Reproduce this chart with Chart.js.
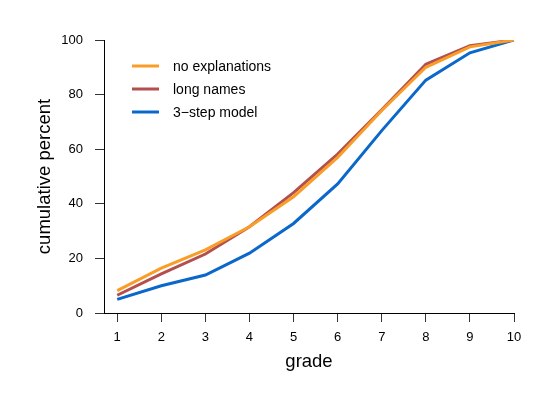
<!DOCTYPE html>
<html>
<head>
<meta charset="utf-8">
<script src="https://cdn.jsdelivr.net/npm/chart.js@4.4.1/dist/chart.umd.min.js"></script>
<style>
  html, body { margin: 0; padding: 0; background: #fff; }
  #wrap { width: 556px; height: 395px; }
</style>
</head>
<body>
<div id="wrap"><canvas id="chart" width="556" height="395"></canvas></div>
<script>
const grades = [1, 2, 3, 4, 5, 6, 7, 8, 9, 10];
const noExplanations = [8.2, 16.4, 23.1, 31.6, 42.6, 57.0, 74.2, 90.0, 97.5, 100];
const longNames      = [6.5, 14.3, 21.6, 31.6, 44.1, 58.2, 74.4, 91.1, 97.9, 100];
const threeStepModel = [5.0, 10.0, 13.9, 21.9, 32.8, 47.3, 66.8, 85.3, 95.3, 100];
const yTicks = [0, 20, 40, 60, 80, 100];

const FONT = "'Liberation Sans', Arial, Helvetica, sans-serif";

function pts(values) {
    return grades.map((g, i) => ({ x: g, y: values[i] }));
}

// légende dessinée à la main, dans la zone du graphique
const insetLegend = {
    id: 'insetLegend',
    afterDraw(chart) {
        const ctx = chart.ctx;
        ctx.save();
        chart.data.datasets.forEach((ds, i) => {
            const y = 66 + i * 23;
            ctx.strokeStyle = ds.borderColor;
            ctx.lineWidth = 3;
            ctx.beginPath();
            ctx.moveTo(132, y);
            ctx.lineTo(159, y);
            ctx.stroke();
            ctx.fillStyle = '#000';
            ctx.font = '14px ' + FONT;
            ctx.textBaseline = 'middle';
            ctx.fillText(ds.label, 173, y + 1);
        });
        ctx.restore();
    }
};

new Chart(document.getElementById('chart'), {
    type: 'line',
    data: {
        datasets: [
            { label: 'no explanations', data: pts(noExplanations), borderColor: '#fa9d28' },
            { label: 'long names',      data: pts(longNames),      borderColor: '#b34f4d' },
            { label: '3\u2212step model', data: pts(threeStepModel), borderColor: '#0a67cb' },
        ].map(d => ({ ...d, borderWidth: 3, pointRadius: 0, tension: 0, fill: false }))
    },
    options: {
        responsive: false,
        animation: false,
        layout: { padding: { top: 40, right: 42, left: 0, bottom: 0 } },
        plugins: { legend: { display: false }, tooltip: { enabled: false } },
        scales: {
            x: {
                type: 'linear',
                min: 0.7,
                max: 10,
                afterBuildTicks: s => { s.ticks = grades.map(v => ({ value: v })); },
                afterFit: s => { s.height = 82; },
                border: { color: '#000', width: 1 },
                grid: { drawOnChartArea: false, drawTicks: true, tickLength: 9, color: '#333' },
                ticks: { color: '#000', font: { family: FONT, size: 13 }, padding: 8, maxRotation: 0 },
                title: { display: true, text: 'grade', color: '#000', font: { family: FONT, size: 18.5 }, padding: { bottom: 22 } }
            },
            y: {
                min: 0,
                max: 100,
                afterBuildTicks: s => { s.ticks = yTicks.map(v => ({ value: v })); },
                afterFit: s => { s.width = 104; },
                border: { color: '#000', width: 1 },
                grid: { drawOnChartArea: false, drawTicks: true, tickLength: 9, color: '#333' },
                ticks: { color: '#000', font: { family: FONT, size: 13 }, padding: 12 },
                title: { display: true, text: 'cumulative percent', color: '#000', font: { family: FONT, size: 18.5 }, padding: { top: 34 } }
            }
        }
    },
    plugins: [insetLegend]
});
</script>
</body>
</html>
